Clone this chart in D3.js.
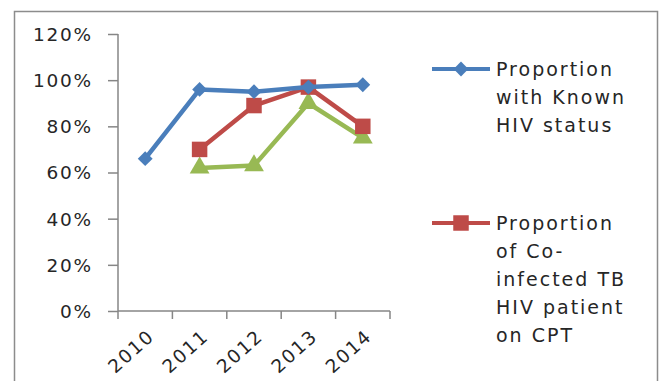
<!DOCTYPE html>
<html><head><meta charset="utf-8">
<script src="https://cdn.jsdelivr.net/npm/d3@7"></script>
<style>body{margin:0;background:#fff}svg{display:block}text{font-family:"DejaVu Sans",Verdana,sans-serif;fill:#262626}</style>
</head><body><svg id="c" width="665" height="381"></svg>
<script>
const categories = ["2010","2011","2012","2013","2014"];
const knownHIV = [0.66, 0.96, 0.95, 0.97, 0.98];
const cptCoinfected = [null, 0.70, 0.89, 0.97, 0.80];
const thirdSeries = [null, 0.62, 0.63, 0.90, 0.75];
const yTicks = [0, 0.2, 0.4, 0.6, 0.8, 1.0, 1.2];

const svg = d3.select("#c");
svg.append("path").attr("d","M14.5,390 V11.5 H657.5 V390").attr("fill","none").attr("stroke","#8c8c8c").attr("stroke-width",1.5);

const x = d3.scaleBand().domain(categories).range([118,390]);
const y = d3.scaleLinear().domain([0,1.2]).range([311,34]);

const yAxis = svg.append("g").attr("transform","translate(118,0)")
  .call(d3.axisLeft(y).tickValues(yTicks).tickFormat(d3.format(".0%")).tickSize(10));
yAxis.selectAll("text").style("font-size","18.5px").attr("letter-spacing","1.8px").attr("dy","0.35em").attr("x",-25).attr("text-anchor","end");
const xAxis = svg.append("g").attr("transform","translate(0,311)")
  .call(d3.axisBottom(x).tickSize(8).tickValues([]));
const edges = categories.map(c=>x(c)).concat([x.range()[1]]);
xAxis.selectAll(".edge").data(edges).enter().append("line").attr("class","edge")
  .attr("x1",d=>d).attr("x2",d=>d).attr("y1",0).attr("y2",8).attr("stroke","#868686").attr("stroke-width",1.5);
xAxis.selectAll(".lbl").data(categories).enter().append("text").attr("class","lbl")
  .attr("transform",d=>`translate(${x(d)+x.bandwidth()/2+6},${22}) rotate(-42)`)
  .attr("text-anchor","end").attr("dy","0.35em").style("font-size","18.5px").attr("letter-spacing","1.8px").text(d=>d);
svg.selectAll(".domain").attr("stroke","#868686").attr("stroke-width",1.5);
yAxis.selectAll(".tick line").attr("stroke","#868686").attr("stroke-width",1.5);
yAxis.select(".domain").attr("d","M0,34V311");
xAxis.select(".domain").attr("d","M118,0H390");

const cx = d => x(d) + x.bandwidth()/2;
const line = d3.line().defined(d=>d.v!=null).x(d=>cx(d.c)).y(d=>y(d.v));
const series = [
  {vals: knownHIV, color:"#4a7ebb", sym:d3.symbolSquare, size:110, rot:45},
  {vals: cptCoinfected, color:"#be4b48", sym:d3.symbolSquare, size:240, rot:0},
  {vals: thirdSeries, color:"#98b954", sym:d3.symbolTriangle, size:170, rot:0}
];
series.slice().reverse().forEach(s=>{
  const data = categories.map((c,i)=>({c, v:s.vals[i]}));
  svg.append("path").datum(data).attr("d",line).attr("fill","none").attr("stroke",s.color).attr("stroke-width",4.5).attr("stroke-linejoin","round");
  svg.selectAll(null).data(data.filter(d=>d.v!=null)).enter().append("path")
    .attr("d",d3.symbol().type(s.sym).size(s.size))
    .attr("transform",d=>`translate(${cx(d.c)},${y(d.v)}) rotate(${s.rot})`).attr("fill",s.color);
});

const legend = [
  {s:series[0], y:69, lines:["Proportion","with Known","HIV status"]},
  {s:series[1], y:223, lines:["Proportion","of Co-","infected TB","HIV patient","on CPT"]}
];
legend.forEach(L=>{
  svg.append("line").attr("x1",432).attr("x2",490).attr("y1",L.y).attr("y2",L.y).attr("stroke",L.s.color).attr("stroke-width",4);
  svg.append("path").attr("d",d3.symbol().type(L.s.sym).size(L.s.size)).attr("transform",`translate(461,${L.y}) rotate(${L.s.rot})`).attr("fill",L.s.color);
  L.lines.forEach((t,i)=>svg.append("text").attr("x",496).attr("y",L.y+i*28).attr("dy","0.35em").style("font-size","19px").attr("letter-spacing","2px").text(t));
});
</script></body></html>
